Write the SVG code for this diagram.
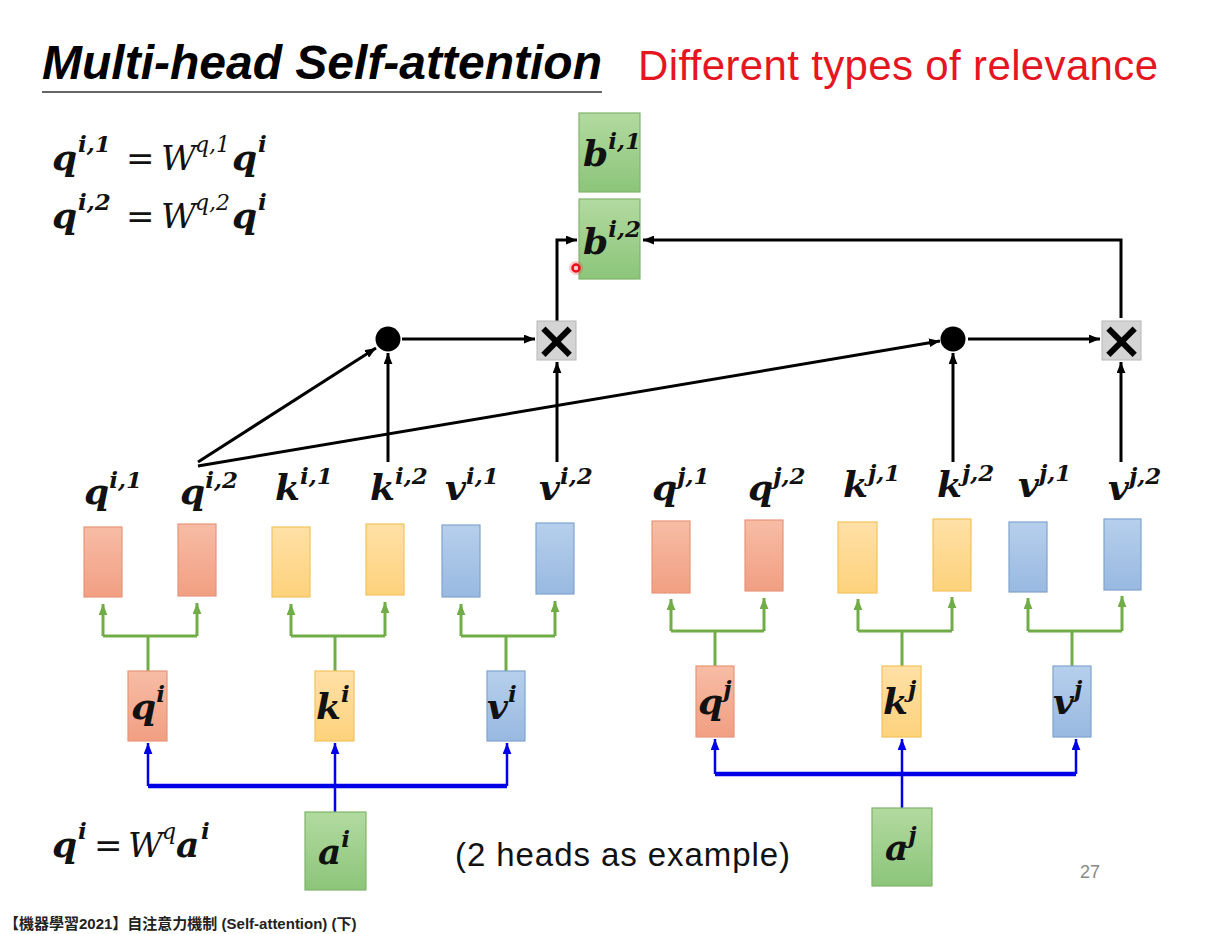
<svg xmlns="http://www.w3.org/2000/svg" width="1206" height="934" viewBox="0 0 1206 934">
<style>
.m{font-family:"DejaVu Serif",serif;font-weight:bold;font-style:italic;font-size:36px;fill:#111}
.s{font-size:23px}
.r{font-family:"DejaVu Serif",serif;font-style:italic;font-size:34px;fill:#111}
.rs{font-size:22px}
.eq{font-family:"DejaVu Serif",serif;font-size:34px;fill:#111}
.blk{fill:none;stroke:#000;stroke-width:3}
.grn{fill:none;stroke:#70AD47;stroke-width:3}
.blu{fill:none;stroke:#0000E6;stroke-width:2.5}
.bluh{fill:none;stroke:#0000E6;stroke-width:4.5}
.or{fill:url(#gO);stroke:#E8957A;stroke-width:1.2}
.ye{fill:url(#gY);stroke:#F2C25C;stroke-width:1.2}
.bl{fill:url(#gB);stroke:#7FA3CF;stroke-width:1.2}
.gr{fill:url(#gG);stroke:#80B56C;stroke-width:1.2}
.xb{fill:#D4D4D4;stroke:#B8B8B8;stroke-width:1}
.xt{font-family:"DejaVu Sans",sans-serif;font-weight:bold;font-size:52px;fill:#000}
</style>
<defs>
<linearGradient id="gO" x1="0" y1="0" x2="0" y2="1"><stop offset="0" stop-color="#F7BCA5"/><stop offset="1" stop-color="#F19F82"/></linearGradient>
<linearGradient id="gY" x1="0" y1="0" x2="0" y2="1"><stop offset="0" stop-color="#FFE0A6"/><stop offset="1" stop-color="#FDD27C"/></linearGradient>
<linearGradient id="gB" x1="0" y1="0" x2="0" y2="1"><stop offset="0" stop-color="#B6CFEC"/><stop offset="1" stop-color="#99B9E1"/></linearGradient>
<linearGradient id="gG" x1="0" y1="0" x2="0" y2="1"><stop offset="0" stop-color="#B2DAA0"/><stop offset="1" stop-color="#8CC57A"/></linearGradient>
<marker id="ak" viewBox="0 0 10 8" refX="10" refY="4" markerWidth="11" markerHeight="9" orient="auto" markerUnits="userSpaceOnUse"><path d="M0,0 L10,4 L0,8 z" fill="#000"/></marker>
<marker id="ag" viewBox="0 0 10 8" refX="10" refY="4" markerWidth="11" markerHeight="9" orient="auto" markerUnits="userSpaceOnUse"><path d="M0,0 L10,4 L0,8 z" fill="#70AD47"/></marker>
<marker id="ab" viewBox="0 0 10 8" refX="10" refY="4" markerWidth="11" markerHeight="9" orient="auto" markerUnits="userSpaceOnUse"><path d="M0,0 L10,4 L0,8 z" fill="#0000E6"/></marker>
</defs>
<rect width="1206" height="934" fill="#fff"/>

<g id="title">
<text x="42" y="79" font-family="Liberation Sans,sans-serif" font-weight="bold" font-style="italic" font-size="48" textLength="560" fill="#000">Multi-head Self-attention</text>
<line x1="42" y1="92" x2="602" y2="92" stroke="#333" stroke-width="1.5"/>
<text x="638" y="80" font-family="Liberation Sans,sans-serif" font-size="42" textLength="520" fill="#E5161F">Different types of relevance</text>
</g>

<g id="formulas">
<text class="m" x="52" y="170">q<tspan class="s" x="78" y="152">i,1</tspan></text>
<text class="eq" x="126" y="170">=</text>
<text class="r" x="161" y="170">W<tspan class="rs" x="195" y="152">q,1</tspan></text>
<text class="m" x="232" y="170">q<tspan class="s" x="258" y="152">i</tspan></text>
<text class="m" x="52" y="228">q<tspan class="s" x="78" y="210">i,2</tspan></text>
<text class="eq" x="126" y="228">=</text>
<text class="r" x="161" y="228">W<tspan class="rs" x="195" y="210">q,2</tspan></text>
<text class="m" x="232" y="228">q<tspan class="s" x="258" y="210">i</tspan></text>
<text class="m" x="52" y="857">q<tspan class="s" x="78" y="839">i</tspan></text>
<text class="eq" x="94" y="857">=</text>
<text class="r" x="128" y="857">W<tspan class="rs" x="162" y="839">q</tspan></text>
<text class="m" x="176" y="857">a<tspan class="s" x="201" y="839">i</tspan></text>
</g>

<g id="connectors">
<path class="blk" d="M402 339 H535" marker-end="url(#ak)"/>
<path class="blk" d="M968 339 H1100" marker-end="url(#ak)"/>
<path class="blk" d="M388 462 V353" marker-end="url(#ak)"/>
<path class="blk" d="M557 462 V362" marker-end="url(#ak)"/>
<path class="blk" d="M953 462 V353" marker-end="url(#ak)"/>
<path class="blk" d="M1121 462 V362" marker-end="url(#ak)"/>
<path class="blk" d="M198 462 L376 348" marker-end="url(#ak)"/>
<path class="blk" d="M198 466 L940 341" marker-end="url(#ak)"/>
<path class="blk" d="M557 321 V240 H577" marker-end="url(#ak)"/>
<path class="blk" d="M1121 318 V240 H643" marker-end="url(#ak)"/>

<path class="grn" d="M103 636 H197 M148 636 V671"/>
<path class="grn" d="M103 636 V604" marker-end="url(#ag)"/>
<path class="grn" d="M197 636 V603" marker-end="url(#ag)"/>
<path class="grn" d="M291 636 H385 M335 636 V671"/>
<path class="grn" d="M291 636 V604" marker-end="url(#ag)"/>
<path class="grn" d="M385 636 V602" marker-end="url(#ag)"/>
<path class="grn" d="M461 636 H555 M506 636 V671"/>
<path class="grn" d="M461 636 V604" marker-end="url(#ag)"/>
<path class="grn" d="M555 636 V601" marker-end="url(#ag)"/>
<path class="grn" d="M671 631 H764 M715 631 V666"/>
<path class="grn" d="M671 631 V599" marker-end="url(#ag)"/>
<path class="grn" d="M764 631 V598" marker-end="url(#ag)"/>
<path class="grn" d="M858 631 H952 M902 631 V666"/>
<path class="grn" d="M858 631 V599" marker-end="url(#ag)"/>
<path class="grn" d="M952 631 V597" marker-end="url(#ag)"/>
<path class="grn" d="M1028 631 H1122 M1072 631 V666"/>
<path class="grn" d="M1028 631 V598" marker-end="url(#ag)"/>
<path class="grn" d="M1122 631 V596" marker-end="url(#ag)"/>

<path class="bluh" d="M148 786 H507"/>
<path class="blu" d="M148 786 V743" marker-end="url(#ab)"/>
<path class="blu" d="M507 786 V743" marker-end="url(#ab)"/>
<path class="blu" d="M335 812 V743" marker-end="url(#ab)"/>
<path class="bluh" d="M715 774 H1076"/>
<path class="blu" d="M715 774 V739" marker-end="url(#ab)"/>
<path class="blu" d="M1076 774 V739" marker-end="url(#ab)"/>
<path class="blu" d="M902 808 V739" marker-end="url(#ab)"/>
</g>

<g id="b1"><rect class="gr" x="579" y="113" width="61" height="79"/><text class="m" x="583" y="166">b<tspan class="s" dy="-17">i,1</tspan></text></g>
<g id="b2"><rect class="gr" x="579" y="199" width="61" height="80"/><text class="m" x="583" y="254">b<tspan class="s" dy="-17">i,2</tspan></text></g>
<g id="pointer"><circle cx="576" cy="268" r="7" fill="#FF3030" opacity="0.25"/><circle cx="576" cy="268" r="3.5" fill="none" stroke="#E8101A" stroke-width="2.5"/></g>

<g id="dot1"><circle cx="388" cy="339" r="12.5" fill="#000"/></g>
<g id="dot2"><circle cx="953" cy="339" r="12.5" fill="#000"/></g>
<g id="mul1"><rect class="xb" x="537" y="321" width="39" height="39"/><text class="xt" x="556.5" y="358" text-anchor="middle">×</text></g>
<g id="mul2"><rect class="xb" x="1102" y="321" width="39" height="39"/><text class="xt" x="1121.5" y="358" text-anchor="middle">×</text></g>

<g id="qi1"><text class="m" x="84" y="504">q<tspan class="s" dy="-16">i,1</tspan></text><rect class="or" x="84" y="527" width="38" height="70"/></g>
<g id="qi2"><text class="m" x="180" y="504">q<tspan class="s" dy="-16">i,2</tspan></text><rect class="or" x="178" y="524" width="38" height="72"/></g>
<g id="ki1"><text class="m" x="275" y="500">k<tspan class="s" dy="-16">i,1</tspan></text><rect class="ye" x="272" y="527" width="38" height="70"/></g>
<g id="ki2"><text class="m" x="370" y="500">k<tspan class="s" dy="-16">i,2</tspan></text><rect class="ye" x="366" y="524" width="38" height="71"/></g>
<g id="vi1"><text class="m" x="445" y="500">v<tspan class="s" dy="-16">i,1</tspan></text><rect class="bl" x="442" y="525" width="38" height="72"/></g>
<g id="vi2"><text class="m" x="539" y="500">v<tspan class="s" dy="-16">i,2</tspan></text><rect class="bl" x="536" y="523" width="38" height="71"/></g>
<g id="qj1"><text class="m" x="652" y="500">q<tspan class="s" dy="-16">j,1</tspan></text><rect class="or" x="652" y="521" width="38" height="72"/></g>
<g id="qj2"><text class="m" x="748" y="500">q<tspan class="s" dy="-16">j,2</tspan></text><rect class="or" x="745" y="520" width="38" height="71"/></g>
<g id="kj1"><text class="m" x="843" y="497">k<tspan class="s" dy="-16">j,1</tspan></text><rect class="ye" x="838" y="522" width="39" height="71"/></g>
<g id="kj2"><text class="m" x="937" y="497">k<tspan class="s" dy="-16">j,2</tspan></text><rect class="ye" x="933" y="519" width="38" height="72"/></g>
<g id="vj1"><text class="m" x="1018" y="497">v<tspan class="s" dy="-16">j,1</tspan></text><rect class="bl" x="1009" y="522" width="38" height="70"/></g>
<g id="vj2"><text class="m" x="1108" y="500">v<tspan class="s" dy="-16">j,2</tspan></text><rect class="bl" x="1104" y="519" width="37" height="71"/></g>

<g id="qi"><rect class="or" x="128" y="671" width="39" height="70"/><text class="m" x="131" y="719">q<tspan class="s" dy="-17">i</tspan></text></g>
<g id="ki"><rect class="ye" x="315" y="671" width="39" height="70"/><text class="m" x="316" y="719">k<tspan class="s" dy="-17">i</tspan></text></g>
<g id="vi"><rect class="bl" x="487" y="671" width="38" height="70"/><text class="m" x="487" y="719">v<tspan class="s" dy="-17">i</tspan></text></g>
<g id="qj"><rect class="or" x="696" y="666" width="38" height="71"/><text class="m" x="698" y="714">q<tspan class="s" dy="-17">j</tspan></text></g>
<g id="kj"><rect class="ye" x="882" y="666" width="39" height="71"/><text class="m" x="883" y="714">k<tspan class="s" dy="-17">j</tspan></text></g>
<g id="vj"><rect class="bl" x="1053" y="666" width="38" height="71"/><text class="m" x="1053" y="714">v<tspan class="s" dy="-17">j</tspan></text></g>

<g id="ai"><rect class="gr" x="305" y="812" width="61" height="78"/><text class="m" x="318" y="864">a<tspan class="s" dy="-17">i</tspan></text></g>
<g id="aj"><rect class="gr" x="872" y="808" width="60" height="78"/><text class="m" x="885" y="860">a<tspan class="s" dy="-17">j</tspan></text></g>

<g id="notes">
<text x="455" y="866" font-family="Liberation Sans,sans-serif" font-size="33" textLength="335" fill="#111">(2 heads as example)</text>
<text x="1080" y="878" font-family="Liberation Sans,sans-serif" font-size="18" fill="#888">27</text>
<text x="4" y="929" font-family="Liberation Sans,'Noto Sans CJK TC',sans-serif" font-weight="bold" font-size="15" fill="#222">【機器學習2021】自注意力機制 (Self-attention) (下)</text>
</g>
</svg>
